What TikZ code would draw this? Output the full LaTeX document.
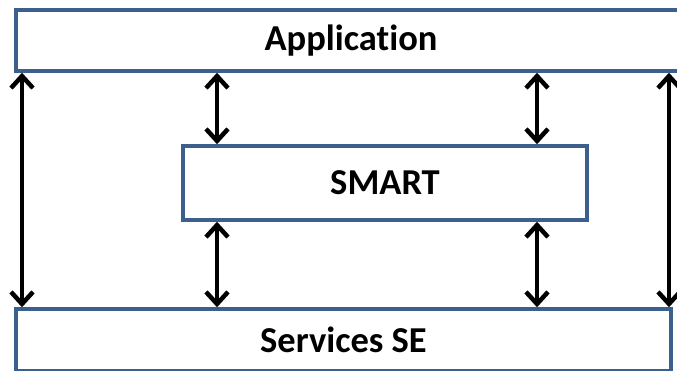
\documentclass[tikz,border=0pt]{standalone}
\usepackage{fontspec}
\setmainfont[Ligatures=NoCommon]{Carlito}
\usepackage{tikz}
\usetikzlibrary{arrows.meta}
\definecolor{BoxBlue}{RGB}{60,95,140}

\begin{document}
\begin{tikzpicture}[
    x=1pt, y=-1pt,
    box/.style={
      draw=BoxBlue,
      line width=3.5pt,
      fill=white,
      font=\fontsize{36.5}{42}\selectfont\bfseries,
      inner sep=0pt
    },
    arrow/.style={
      {Straight Barb[length=12pt,width=22pt]}-{Straight Barb[length=12pt,width=22pt]},
      line width=4.5pt
    }
  ]
    \useasboundingbox (0,0) rectangle (677,371);

    \node[box, minimum width=670pt, minimum height=61pt] (app) at (351,40.5)
      {Application};
    \node[box, minimum width=404pt, minimum height=74pt] (smart) at (385,183)
      {SMART};
    \node[box, minimum width=655pt, minimum height=62pt] (services) at (343.5,340)
      {Services SE};

    \coordinate (left) at (22,0);
    \coordinate (midleft) at (217,0);
    \coordinate (midright) at (537,0);
    \coordinate (right) at (669,0);

    \draw[arrow] (app.south -| left) -- (services.north -| left);
    \draw[arrow] (app.south -| midleft) -- (smart.north -| midleft);
    \draw[arrow] (app.south -| midright) -- (smart.north -| midright);
    \draw[arrow] (smart.south -| midleft) -- (services.north -| midleft);
    \draw[arrow] (smart.south -| midright) -- (services.north -| midright);
    \draw[arrow] (app.south -| right) -- (services.north -| right);
  \end{tikzpicture}
\end{document}
